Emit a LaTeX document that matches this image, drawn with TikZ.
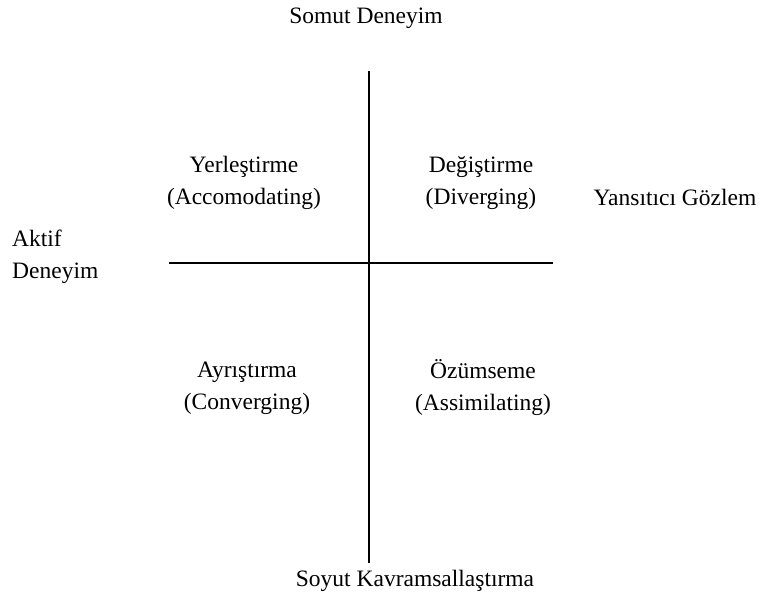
\documentclass[tikz,border=0pt]{standalone}
\usepackage{fontspec}
\setmainfont{Liberation Serif}
\usetikzlibrary{positioning}

\begin{document}
\begin{tikzpicture}[x=1pt, y=-1pt, font=\fontsize{23.5}{32}\selectfont,
  lbl/.style={inner sep=0pt, align=center},
  axis/.style={draw=black, line width=1.3pt}]
  \useasboundingbox (0,0) rectangle (761,606);
  % axes
  \coordinate (top) at (369,71);
  \coordinate (bot) at (369,563);
  \coordinate (lft) at (169,263);
  \coordinate (rgt) at (553,263);
  \draw[axis] (top) -- (bot);
  \draw[axis] (lft) -- (rgt);
  % poles
  \node[lbl] (somut) at (366,18) {Somut Deneyim};
  \node[lbl] (soyut) at (415,581) {Soyut Kavramsallaştırma};
  \node[lbl] (yansit) at (675,197) {Yansıtıcı Gözlem};
  \node[lbl, align=left, anchor=west] (aktif) at (12,257) {Aktif\\Deneyim};
  % quadrants
  \node[lbl] (yerles) at (244,183) {Yerleştirme\\(Accomodating)};
  \node[lbl] (degis) at (481,183) {Değiştirme\\(Diverging)};
  \node[lbl] (ayris) at (247,388) {Ayrıştırma\\(Converging)};
  \node[lbl] (ozum) at (483,388) {Özümseme\\(Assimilating)};
\end{tikzpicture}
\end{document}
